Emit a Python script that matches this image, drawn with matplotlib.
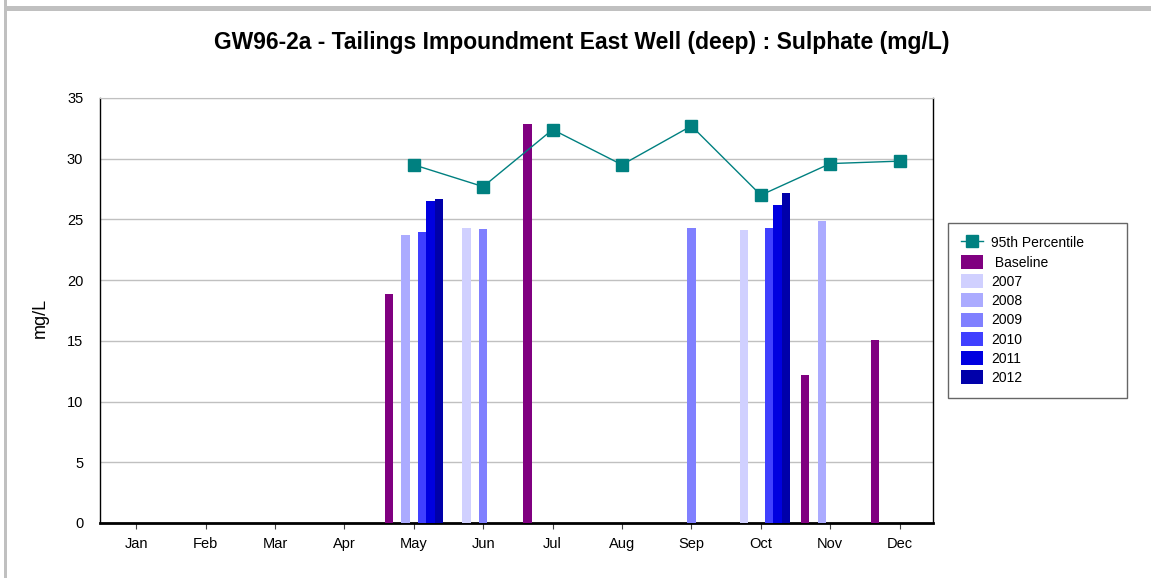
import numpy as np
import matplotlib
matplotlib.use('Agg')
import matplotlib.pyplot as plt
from matplotlib.patches import Rectangle

plt.rcParams['font.family'] = ['Liberation Sans', 'DejaVu Sans']

# data (nan = no sample)
months = ['Jan', 'Feb', 'Mar', 'Apr', 'May', 'Jun', 'Jul', 'Aug', 'Sep', 'Oct', 'Nov', 'Dec']
nan = np.nan
series_names = ['Baseline', '2007', '2008', '2009', '2010', '2011', '2012']
baseline = [nan, nan, nan, nan, 18.9, nan, 32.9, nan, nan, nan, 12.2, 15.1]
y2007 = [nan, nan, nan, nan, nan, 24.3, nan, nan, nan, 24.1, nan, nan]
y2008 = [nan, nan, nan, nan, 23.7, nan, nan, nan, nan, nan, 24.9, nan]
y2009 = [nan, nan, nan, nan, nan, 24.2, nan, nan, 24.3, nan, nan, nan]
y2010 = [nan, nan, nan, nan, 24.0, nan, nan, nan, nan, 24.3, nan, nan]
y2011 = [nan, nan, nan, nan, 26.5, nan, nan, nan, nan, 26.2, nan, nan]
y2012 = [nan, nan, nan, nan, 26.7, nan, nan, nan, nan, 27.2, nan, nan]
p95 = [nan, nan, nan, nan, 29.5, 27.7, 32.4, 29.5, 32.7, 27.0, 29.6, 29.8]

series_vals = [baseline, y2007, y2008, y2009, y2010, y2011, y2012]
colors = ['#800080', '#D0D0FF', '#ABABFF', '#8080FF', '#4040FF', '#0000E0', '#0000AA']

fig = plt.figure(figsize=(11.51, 5.78), dpi=100)
ax = fig.add_axes([100/1151, 1-523/578, 833/1151, 425/578])

x = np.arange(len(months))
w = 0.12
bars = []
for i, (name, vals, c) in enumerate(zip(series_names, series_vals, colors)):
    b = ax.bar(x + (i-3)*w, vals, width=w, color=c, label=name, zorder=3)
    bars.append(b)

line, = ax.plot(x, p95, color='#008080', lw=1, marker='s', ms=8.5,
                label='95th Percentile', zorder=4)

ax.set_xlim(-0.52, 11.48)
ax.set_ylim(0, 35)
ax.set_xticks(x)
ax.set_xticklabels(months)
ax.set_yticks(range(0, 36, 5))
ax.yaxis.grid(True, color='#C0C0C0', lw=1)
ax.set_axisbelow(True)
ax.tick_params(axis='x', length=4, pad=6, labelsize=10.5, color='#404040')
ax.tick_params(axis='y', length=0, pad=12, labelsize=10.5)
ax.spines['top'].set_color('#C0C0C0')
ax.spines['right'].set_color('black')
ax.spines['right'].set_linewidth(1)
ax.spines['left'].set_linewidth(1)
ax.spines['bottom'].set_linewidth(2)

fig.text(582/1151, 1-43/578, 'GW96-2a - Tailings Impoundment East Well (deep) : Sulphate (mg/L)',
         ha='center', va='center', fontsize=16.5, fontweight='bold')
fig.text(40/1151, 1-318/578, 'mg/L', rotation=90, ha='center', va='center', fontsize=13)

handles = [line] + [b for b in bars]
labels = ['95th Percentile', ' Baseline'] + series_names[1:]
leg = fig.legend(handles, labels, loc='upper left',
                 bbox_to_anchor=(948/1151, 1-398/578, 179/1151, 175/578),
                 mode='expand', fontsize=10, frameon=True, fancybox=False,
                 edgecolor='#404040', borderpad=0.9, labelspacing=0.32,
                 handlelength=1.6, handleheight=1.2, handletextpad=0.6,
                 borderaxespad=0)
leg.get_frame().set_linewidth(1)

# gray outer frame
fig.add_artist(Rectangle((4/1151, 0), 3/1151, 1, transform=fig.transFigure,
                         color='#C0C0C0', lw=0))
fig.add_artist(Rectangle((4/1151, 1-11/578), 1, 5/578, transform=fig.transFigure,
                         color='#C0C0C0', lw=0))

fig.savefig('out.png', dpi=100)
